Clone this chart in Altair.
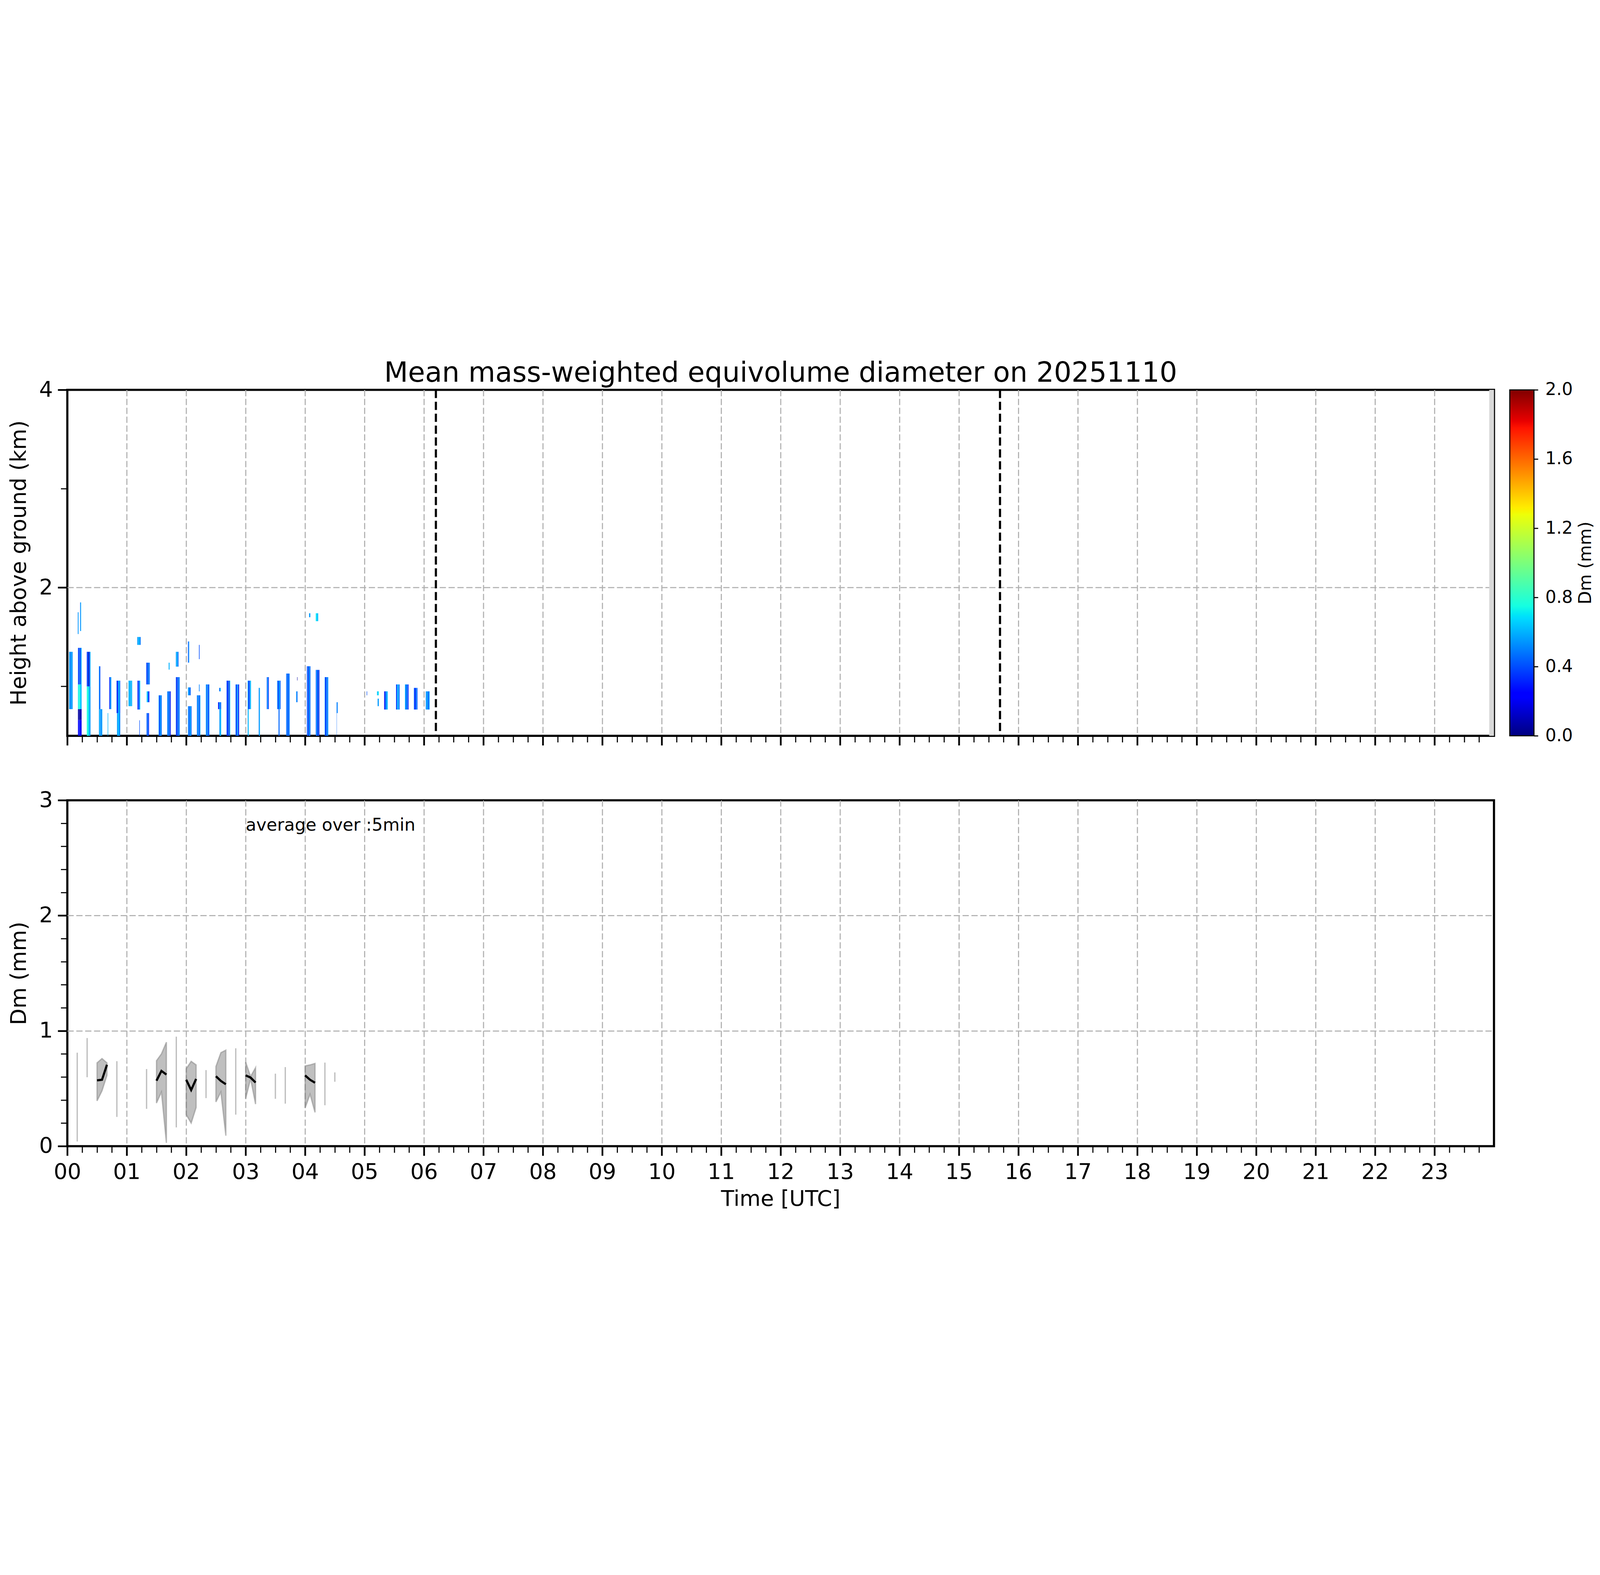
import altair as alt
import pandas as pd

TITLE = ["Mean mass-weighted equivolume diameter on 20251110"]

# ---------------- top panel: Dm curtain ----------------
# each entry: (start h, end h, base km, top km, [Dm (mm) of successive profiles in that span])
heat_00h = [
    (0.030, 0.090, 0.77, 1.35, [0.50, 0.58, 0.45, 0.55, 0.62, 0.50]),
    (0.179, 0.240, 0.50, 0.66, [0.25, 0.20, 0.30, 0.22, 0.18]),
    (0.179, 0.240, 0.66, 0.77, [0.06, 0.04, 0.08, 0.05, 0.10]),
    (0.179, 0.240, 0.77, 1.02, [0.70, 0.78, 0.74, 0.66, 0.60]),
    (0.179, 0.240, 1.02, 1.39, [0.45, 0.25, 0.55, 0.35, 0.60]),
    (0.176, 0.190, 1.53, 1.75, [0.50, 0.58]),
    (0.215, 0.232, 1.56, 1.85, [0.45, 0.62]),
    (0.328, 0.390, 0.50, 1.00, [0.74, 0.80, 0.66, 0.60, 0.55]),
    (0.328, 0.390, 1.00, 1.35, [0.30, 0.45, 0.10, 0.38, 0.58]),
    (0.532, 0.588, 0.50, 0.77, [0.55, 0.62, 0.48, 0.58]),
    (0.532, 0.555, 0.77, 1.204, [0.50, 0.40]),
    (0.679, 0.688, 0.50, 0.73, [0.60]),
    (0.705, 0.740, 0.77, 1.094, [0.30, 0.48, 0.55]),
    (0.828, 0.890, 0.73, 1.058, [0.40, 0.20, 0.55, 0.62, 0.45]),
    (0.836, 0.890, 0.50, 0.73, [0.55, 0.62, 0.50]),
]
heat_01h = [
    (1.030, 1.090, 0.80, 1.058, [0.58, 0.65, 0.50, 0.70, 0.55]),
    (1.180, 1.227, 0.766, 1.058, [0.25, 0.48, 0.35, 0.65]),
    (1.177, 1.234, 1.42, 1.50, [0.55, 0.62, 0.50]),
    (1.212, 1.220, 0.50, 0.657, [0.40]),
    (1.328, 1.387, 1.02, 1.24, [0.30, 0.55, 0.20, 0.65, 0.40]),
    (1.335, 1.380, 0.84, 0.95, [0.65, 0.50, 0.30]),
    (1.333, 1.374, 0.50, 0.73, [0.45, 0.35, 0.55, 0.25]),
    (1.536, 1.588, 0.50, 0.91, [0.52, 0.35, 0.60, 0.45]),
    (1.681, 1.740, 0.50, 0.95, [0.45, 0.60, 0.30, 0.55, 0.20]),
    (1.705, 1.720, 1.17, 1.24, [0.60]),
    (1.826, 1.891, 0.50, 1.094, [0.40, 0.20, 0.55, 0.30, 0.60, 0.45]),
    (1.826, 1.870, 1.20, 1.35, [0.55, 0.62, 0.45]),
]
heat_02h = [
    (2.030, 2.090, 0.50, 0.80, [0.52, 0.40, 0.60, 0.45]),
    (2.030, 2.075, 0.91, 0.99, [0.55, 0.45]),
    (2.030, 2.050, 1.24, 1.455, [0.40, 0.55]),
    (2.180, 2.238, 0.50, 0.91, [0.45, 0.60, 0.35, 0.55]),
    (2.215, 2.225, 0.95, 1.02, [0.50]),
    (2.215, 2.225, 1.276, 1.42, [0.40]),
    (2.330, 2.390, 0.50, 1.02, [0.55, 0.40, 0.62, 0.30, 0.50]),
    (2.555, 2.580, 0.95, 0.985, [0.45, 0.60]),
    (2.536, 2.588, 0.77, 0.84, [0.30, 0.55, 0.45]),
    (2.558, 2.588, 0.50, 0.77, [0.55, 0.62]),
    (2.679, 2.740, 0.50, 1.058, [0.40, 0.25, 0.55, 0.15, 0.60]),
    (2.830, 2.890, 0.50, 1.02, [0.45, 0.30, 0.60, 0.50, 0.20]),
]
heat_03h = [
    (3.034, 3.090, 0.77, 1.058, [0.55, 0.30, 0.50, 0.62]),
    (3.034, 3.052, 0.50, 0.77, [0.55, 0.65]),
    (3.220, 3.240, 0.50, 0.985, [0.50, 0.60]),
    (3.355, 3.390, 0.77, 1.094, [0.40, 0.62, 0.30]),
    (3.530, 3.588, 0.77, 1.058, [0.50, 0.35, 0.60, 0.45]),
    (3.553, 3.570, 0.50, 0.77, [0.45]),
    (3.682, 3.740, 0.50, 1.13, [0.40, 0.60, 0.30, 0.55, 0.45]),
    (3.850, 3.872, 0.84, 0.95, [0.55, 0.45]),
    (3.866, 3.872, 1.06, 1.094, [0.05]),
]
heat_04h = [
    (4.030, 4.090, 0.50, 1.204, [0.35, 0.55, 0.20, 0.60, 0.45]),
    (4.067, 4.088, 1.70, 1.74, [0.55]),
    (4.180, 4.240, 0.50, 1.167, [0.40, 0.60, 0.25, 0.55, 0.15]),
    (4.180, 4.220, 1.66, 1.74, [0.70, 0.62]),
    (4.330, 4.390, 0.50, 1.094, [0.50, 0.25, 0.60, 0.40, 0.55]),
    (4.530, 4.548, 0.73, 0.84, [0.50]),
    (4.530, 4.534, 0.50, 0.73, [0.45]),
]
heat_05h = [
    (5.036, 5.044, 0.91, 0.95, [0.40]),
    (5.210, 5.240, 0.91, 0.95, [0.62, 0.70]),
    (5.220, 5.240, 0.80, 0.876, [0.55]),
    (5.330, 5.390, 0.766, 0.95, [0.20, 0.45, 0.55, 0.60]),
    (5.530, 5.590, 0.766, 1.02, [0.35, 0.55, 0.62, 0.45]),
    (5.680, 5.740, 0.766, 1.02, [0.60, 0.40, 0.55, 0.30]),
    (5.830, 5.890, 0.766, 0.985, [0.45, 0.25, 0.55, 0.40]),
    (6.030, 6.095, 0.766, 0.95, [0.50, 0.62, 0.40, 0.55]),
]
missing_t0 = [23.92]
missing_t1 = [24.0]
sun_lines = [6.2, 15.69]

# ---------------- bottom panel: 5-min Dm mean with spread ----------------
band_seg = [1, 1, 1, 2, 2, 2, 3, 3, 3, 4, 4, 4, 5, 5, 5, 6, 6, 6]
band_t = [0.5, 0.5833, 0.6667, 1.5, 1.5833, 1.6667, 2.0, 2.0833, 2.1667,
          2.5, 2.5833, 2.6667, 3.0, 3.0833, 3.1667, 4.0, 4.0833, 4.1667]
band_mean = [0.571, 0.576, 0.706, 0.568, 0.653, 0.621, 0.576, 0.487, 0.583,
             0.607, 0.566, 0.537, 0.614, 0.595, 0.552, 0.614, 0.576, 0.550]
band_lo = [0.393, 0.480, 0.614, 0.374, 0.470, 0.029, 0.274, 0.200, 0.336,
           0.384, 0.470, 0.091, 0.413, 0.585, 0.365, 0.331, 0.451, 0.293]
band_hi = [0.723, 0.760, 0.723, 0.741, 0.801, 0.902, 0.672, 0.736, 0.705,
           0.691, 0.811, 0.833, 0.729, 0.605, 0.681, 0.696, 0.705, 0.718]
single_t = [0.1667, 0.3333, 0.8333, 1.3333, 1.8333, 2.3333, 2.8333, 3.5, 3.6667, 4.3333, 4.5]
single_lo = [0.041, 0.598, 0.254, 0.324, 0.163, 0.417, 0.274, 0.411, 0.369, 0.355, 0.559]
single_hi = [0.811, 0.938, 0.737, 0.669, 0.950, 0.660, 0.849, 0.629, 0.686, 0.725, 0.640]
note_text = ["average over :5min"]
note_t = [3.0]
note_v = [2.78]

# ---------------- jet colour map ----------------
jet_offsets = [0.0, 0.11, 0.125, 0.34, 0.35, 0.375, 0.64, 0.65, 0.66, 0.89, 0.91, 1.0]
jet_colors = ["#000080", "#0000ff", "#0000ff", "#00dbff", "#00e6f7", "#15ffe2",
              "#eeff08", "#f7f500", "#ffec00", "#ff1300", "#e80000", "#800000"]
DM_MAX = 2.0
cb_ticks = [0.0, 0.4, 0.8, 1.2, 1.6, 2.0]
x_ticks = [i * 0.25 for i in range(96)]
y_top_ticks = [1, 2, 3, 4]
y_bot_ticks = [0.0, 0.2, 0.4, 0.6, 0.8, 1.0, 1.2, 1.4, 1.6, 1.8, 2.0, 2.2, 2.4, 2.6, 2.8, 3.0]

W, H = 6600, 1600
CB_GAP, CB_W = 73, 112
GRID = dict(grid=True, gridColor="#b0b0b0", gridWidth=5, gridDash=[29, 12])

heat_rows = []
for t0, t1, h0, h1, vals in heat_00h + heat_01h + heat_02h + heat_03h + heat_04h + heat_05h:
    step = (t1 - t0) / len(vals)
    for i, v in enumerate(vals):
        heat_rows.append((t0 + i * step, t0 + (i + 1) * step, h0, h1, v))
heat_df = pd.DataFrame(heat_rows, columns=["t0", "t1", "h0", "h1", "dm"])
miss_df = pd.DataFrame({"t0": missing_t0, "t1": missing_t1})
sun_df = pd.DataFrame({"t": sun_lines})
band_df = pd.DataFrame({"seg": band_seg, "t": band_t, "mean": band_mean,
                        "lo": band_lo, "hi": band_hi})
single_df = pd.DataFrame({"t": single_t, "lo": single_lo, "hi": single_hi})
note_df = pd.DataFrame({"t": note_t, "v": note_v, "label": note_text})
cb_df = pd.DataFrame({"lo": [0.0], "hi": [DM_MAX]})
title_df = pd.DataFrame({"label": TITLE})

xscale = alt.Scale(domain=[0, 24], nice=False, zero=False)
major_x = "datum.value % 1 === 0"


def x_axis(show_labels):
    kw = dict(
        values=x_ticks, domain=False, labelFlush=False, labelOverlap=False,
        labelFontSize=100, labelPadding=28,
        labelExpr="datum.value % 1 === 0 ? (datum.value < 10 ? '0' : '') + format(datum.value, 'd') : ''",
        tickColor="black",
        tickSize={"condition": {"test": major_x, "value": 44}, "value": 30},
        tickWidth={"condition": {"test": major_x, "value": 8}, "value": 5},
        gridOpacity={"condition": {"test": major_x + " && datum.value > 0", "value": 1}, "value": 0},
        titleFontSize=100, titleFontWeight="normal", titlePadding=25,
        **GRID,
    )
    if show_labels:
        return alt.Axis(title="Time [UTC]", labels=True, **kw)
    return alt.Axis(title=None, labels=False, **kw)


y_top_axis = alt.Axis(
    values=y_top_ticks, domain=False, labelOverlap=False, labelFontSize=100, labelPadding=23,
    labelExpr="datum.value % 2 === 0 ? format(datum.value, 'd') : ''",
    tickColor="black",
    tickSize={"condition": {"test": "datum.value % 2 === 0", "value": 44}, "value": 30},
    tickWidth={"condition": {"test": "datum.value % 2 === 0", "value": 8}, "value": 5},
    gridOpacity={"condition": {"test": "datum.value === 2", "value": 1}, "value": 0},
    title="Height above ground (km)", titleFontSize=100, titleFontWeight="normal",
    titlePadding=44, minExtent=128, maxExtent=128, **GRID,
)
major_y = "abs(datum.value - round(datum.value)) < 0.001"
y_bot_axis = alt.Axis(
    values=y_bot_ticks, domain=False, labelOverlap=False, labelFontSize=100, labelPadding=23,
    labelExpr=major_y + " ? format(datum.value, 'd') : ''",
    tickColor="black",
    tickSize={"condition": {"test": major_y, "value": 44}, "value": 30},
    tickWidth={"condition": {"test": major_y, "value": 8}, "value": 5},
    gridOpacity={"condition": {"test": "datum.value === 1 || datum.value === 2", "value": 1}, "value": 0},
    title="Dm (mm)", titleFontSize=100, titleFontWeight="normal",
    titlePadding=44, minExtent=128, maxExtent=128, **GRID,
)
cb_axis = alt.Axis(
    orient="right", offset=CB_GAP + CB_W, values=cb_ticks, format=".1f", domain=False, grid=False,
    labelFontSize=80, labelPadding=33, labelOverlap=False,
    tickSize=19, tickWidth=5, tickColor="black",
    title="Dm (mm)", titleFontSize=80, titleFontWeight="normal",
    titleAngle=270, titleBaseline="top", titlePadding=22)

jet_scale = alt.Scale(domain=[o * DM_MAX for o in jet_offsets], range=jet_colors,
                      interpolate="rgb", clamp=True)
ytop_scale = alt.Scale(domain=[0.5, 4], nice=False, zero=False)
ybot_scale = alt.Scale(domain=[0, 3], nice=False, zero=False)
cb_scale = alt.Scale(domain=[0, DM_MAX], nice=False, zero=False)

miss = alt.Chart(miss_df).mark_rect(color="#d9d9d9").encode(
    x=alt.X("t0:Q", scale=xscale, axis=x_axis(False)), x2="t1:Q",
    y=alt.value(0), y2=alt.value(H))
heat = alt.Chart(heat_df).mark_rect(strokeWidth=0).encode(
    x=alt.X("t0:Q", scale=xscale, axis=x_axis(False)), x2="t1:Q",
    y=alt.Y("h0:Q", scale=ytop_scale, axis=y_top_axis), y2="h1:Q",
    color=alt.Color("dm:Q", scale=jet_scale, legend=None))
sun = alt.Chart(sun_df).mark_rule(color="black", strokeWidth=10, strokeDash=[38, 17]).encode(
    x=alt.X("t:Q", scale=xscale, axis=x_axis(False)))
title_mark = alt.Chart(title_df).mark_text(
    fontSize=128, align="center", baseline="alphabetic", color="black").encode(
    x=alt.value(W / 2), y=alt.value(-38), text="label:N")

gradient = alt.LinearGradient(
    gradient="linear",
    stops=[alt.GradientStop(color=c, offset=o) for o, c in zip(jet_offsets, jet_colors)],
    x1=0, x2=0, y1=1, y2=0)
colorbar = alt.Chart(cb_df).mark_rect(fill=gradient, stroke="black", strokeWidth=5).encode(
    x=alt.value(W + CB_GAP), x2=alt.value(W + CB_GAP + CB_W),
    y=alt.Y("lo:Q", scale=cb_scale, axis=cb_axis), y2="hi:Q")

top = alt.layer(miss, heat, sun, title_mark, colorbar).resolve_scale(y="independent").properties(
    width=W, height=H)

areas = alt.Chart(band_df).mark_area(
    fill="#808080", fillOpacity=0.5, stroke="#808080", strokeOpacity=0.5, strokeWidth=6).encode(
    x=alt.X("t:Q", scale=xscale, axis=x_axis(True)),
    y=alt.Y("lo:Q", scale=ybot_scale, axis=y_bot_axis), y2="hi:Q", detail="seg:N")
singles = alt.Chart(single_df).mark_rule(color="#808080", opacity=0.5, strokeWidth=6).encode(
    x=alt.X("t:Q", scale=xscale, axis=x_axis(True)),
    y=alt.Y("lo:Q", scale=ybot_scale, axis=y_bot_axis), y2="hi:Q")
means = alt.Chart(band_df).mark_line(color="black", strokeWidth=10).encode(
    x=alt.X("t:Q", scale=xscale, axis=x_axis(True)),
    y=alt.Y("mean:Q", scale=ybot_scale, axis=y_bot_axis), detail="seg:N")
note = alt.Chart(note_df).mark_text(align="left", baseline="middle", fontSize=80, color="black").encode(
    x=alt.X("t:Q", scale=xscale, axis=x_axis(True)),
    y=alt.Y("v:Q", scale=ybot_scale, axis=y_bot_axis), text="label:N")
bottom = alt.layer(areas, singles, means, note).properties(width=W, height=H)

chart = alt.vconcat(top, bottom, spacing=298, bounds="flush").properties(
    padding={"left": 19, "top": 36, "right": 5, "bottom": 5}
).configure(font="DejaVu Sans", background="white").configure_view(
    stroke="black", strokeWidth=10
).configure_axis(labelColor="black", titleColor="black", labelFont="DejaVu Sans",
                 titleFont="DejaVu Sans")

chart.save("out.html", embed_options={"renderer": "svg", "actions": False})
